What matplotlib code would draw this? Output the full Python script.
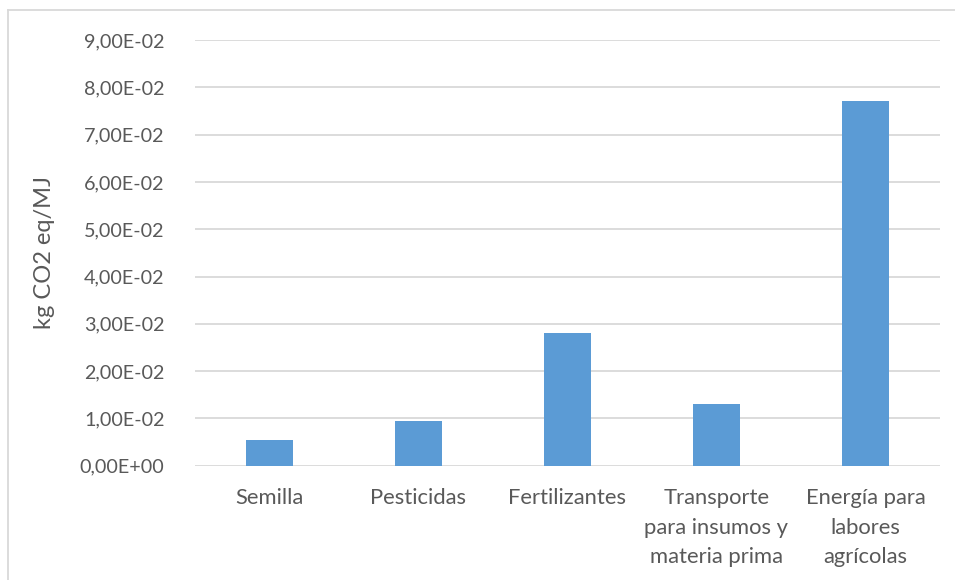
import matplotlib
matplotlib.use('Agg')
import matplotlib.pyplot as plt
from matplotlib.lines import Line2D

categorias = ['Semilla', 'Pesticidas', 'Fertilizantes',
              'Transporte\npara insumos y\nmateria prima',
              'Energía para\nlabores\nagrícolas']
emisiones = [0.0054, 0.0094, 0.0280, 0.0130, 0.0771]
y_ticks = [0.00, 0.01, 0.02, 0.03, 0.04, 0.05, 0.06, 0.07, 0.08, 0.09]

GRIS = '#595959'
plt.rcParams['font.family'] = ['Lato', 'DejaVu Sans']


def sci_coma(v, pos=None):
    return f'{v:.2E}'.replace('.', ',')


fig = plt.figure(figsize=(9.55, 5.8), dpi=100)
ax = fig.add_axes([195 / 955, 1 - 465.7 / 580, 745 / 955, 425.7 / 580])

ax.bar(range(len(categorias)), emisiones, width=0.313, color='#5b9bd5', zorder=3)

ax.set_xlim(-0.5, len(categorias) - 0.5)
ax.set_ylim(0, 0.09)
ax.set_yticks(y_ticks)
ax.yaxis.set_major_formatter(sci_coma)
ax.set_xticks(range(len(categorias)))
ax.set_xticklabels(categorias, linespacing=1.6, va='top', fontsize=15.8)

ax.grid(axis='y', color='#d9d9d9', linewidth=1.3, zorder=0)
for s in ax.spines.values():
    s.set_visible(False)
ax.tick_params(axis='both', length=0, colors=GRIS)
ax.tick_params(axis='y', pad=22, labelsize=14.2)
ax.tick_params(axis='x', pad=16)

ax.set_ylabel('kg CO2 eq/MJ', fontsize=17, color=GRIS, labelpad=18)

# borde del area del grafico (recortado a la derecha y abajo)
fig.add_artist(Line2D([8 / 955, 1], [1 - 10 / 580, 1 - 10 / 580],
                      transform=fig.transFigure, color='#d9d9d9', lw=1.3))
fig.add_artist(Line2D([8 / 955, 8 / 955], [0, 1 - 10 / 580],
                      transform=fig.transFigure, color='#d9d9d9', lw=1.3))

fig.savefig('out.png', dpi=100)
